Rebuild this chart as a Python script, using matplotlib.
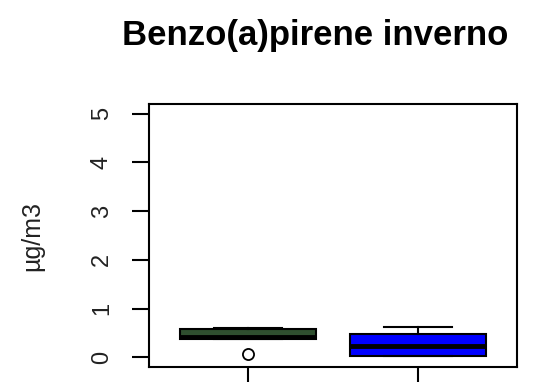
import matplotlib
matplotlib.use("Agg")
import matplotlib.pyplot as plt

plt.rcParams['font.family'] = ['Liberation Sans', 'DejaVu Sans']

title = "Benzo(a)pirene inverno"
ylabel = "µg/m3"
groups = [1, 2]
colors = ["#2F4F2F", "#0000FF"]
whislo = [0.37, 0.02]
q1 = [0.37, 0.02]
med = [0.41, 0.23]
q3 = [0.57, 0.47]
whishi = [0.61, 0.62]
fliers = [[0.06], []]
yticks = [0, 1, 2, 3, 4, 5]

W, H = 542, 382
fig = plt.figure(figsize=(W / 100, H / 100), dpi=100)
ax = fig.add_axes([149 / W, 1 - 367 / H, (517 - 149) / W, (367 - 104) / H])

stats = []
for i in range(len(groups)):
    stats.append(dict(med=med[i], q1=q1[i], q3=q3[i], whislo=whislo[i],
                      whishi=whishi[i], fliers=fliers[i]))

bp = ax.bxp(stats, positions=groups, widths=0.8, patch_artist=True,
            showfliers=True,
            boxprops=dict(linewidth=1.5, edgecolor='black'),
            medianprops=dict(color='black', linewidth=3.5),
            whiskerprops=dict(color='black', linewidth=1.5),
            capprops=dict(color='black', linewidth=1.5),
            capwidths=0.4,
            flierprops=dict(marker='o', markerfacecolor='white',
                            markeredgecolor='black', markersize=8,
                            markeredgewidth=1.3))
for patch, c in zip(bp['boxes'], colors):
    patch.set_facecolor(c)

ax.set_xlim(0.42, 2.58)
ax.set_ylim(-0.2, 5.2)
ax.set_xticks(groups)
ax.set_xticklabels(["", ""])
ax.set_yticks(yticks)
ax.set_yticklabels([str(t) for t in yticks], rotation=90, va='center')
ax.tick_params(axis='both', length=12, width=1.5, labelsize=17, pad=14,
               labelcolor='#222222')
for s in ax.spines.values():
    s.set_linewidth(1.5)

fig.text(32 / W, 1 - 236 / H, ylabel, rotation=90, ha='center', va='center',
         fontsize=18, color='#222222')
fig.text(315 / W, 1 - 35 / H, title, ha='center', va='center',
         fontsize=25, fontweight='bold')

fig.savefig("out.png", dpi=100)
